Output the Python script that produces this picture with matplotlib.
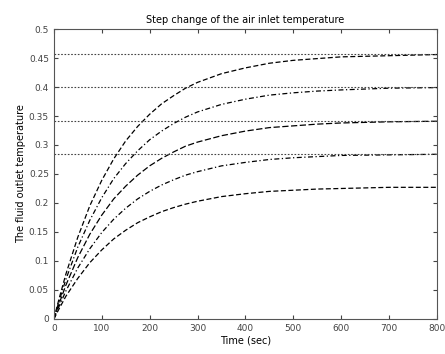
import matplotlib
matplotlib.use('Agg')
import matplotlib.pyplot as plt

# time samples (sec) and the five outlet temperature responses
t = [0, 10, 25, 50, 75, 100, 125, 150, 175, 200, 225, 250, 275, 300, 350, 400, 450, 500, 550, 600, 700, 800]
curve1 = [0, 0.032, 0.077, 0.141, 0.195, 0.239, 0.276, 0.307, 0.332, 0.353, 0.371, 0.385, 0.398, 0.408,
          0.423, 0.433, 0.441, 0.446, 0.449, 0.452, 0.454, 0.456]
curve2 = [0, 0.028, 0.068, 0.124, 0.170, 0.209, 0.242, 0.268, 0.290, 0.309, 0.324, 0.337, 0.348, 0.357,
          0.370, 0.379, 0.386, 0.390, 0.393, 0.395, 0.398, 0.399]
curve3 = [0, 0.024, 0.058, 0.106, 0.146, 0.179, 0.207, 0.229, 0.248, 0.264, 0.277, 0.288, 0.298, 0.305,
          0.316, 0.324, 0.330, 0.333, 0.336, 0.338, 0.340, 0.341]
curve4 = [0, 0.020, 0.048, 0.088, 0.121, 0.149, 0.172, 0.191, 0.207, 0.220, 0.231, 0.240, 0.248, 0.254,
          0.264, 0.270, 0.275, 0.278, 0.280, 0.282, 0.283, 0.284]
curve5 = [0, 0.016, 0.039, 0.070, 0.097, 0.119, 0.138, 0.153, 0.166, 0.176, 0.185, 0.192, 0.198, 0.203,
          0.211, 0.216, 0.220, 0.222, 0.224, 0.225, 0.227, 0.227]

# steady state reference levels (dotted)
levels = [0.457, 0.400, 0.342, 0.285]

fig = plt.figure(figsize=(4.45, 3.54), dpi=100)
ax = fig.add_axes([0.121, 0.099, 0.861, 0.819])

curves = [curve1, curve2, curve3, curve4, curve5]
dashes = [(4, 2), (4, 2, 1, 2), (5, 2), (4, 2, 1, 2), (4, 2)]
for c, d in zip(curves, dashes):
    ax.plot(t, c, color='black', lw=0.9, dashes=d)

for lv in levels:
    ax.axhline(lv, color='#444444', lw=0.8, ls=(0, (1.5, 1.5)))

ax.set_xlim(0, 800)
ax.set_ylim(0, 0.5)
ax.set_xticks(range(0, 801, 100))
ax.set_yticks([0, 0.05, 0.1, 0.15, 0.2, 0.25, 0.3, 0.35, 0.4, 0.45, 0.5])
ax.set_yticklabels(['0', '0.05', '0.1', '0.15', '0.2', '0.25', '0.3', '0.35', '0.4', '0.45', '0.5'])
ax.tick_params(direction='in', top=True, right=True, labelsize=6.5, length=3, colors='#444444')
for s in ax.spines.values():
    s.set_color('#555555')
    s.set_linewidth(0.8)

ax.set_title('Step change of the air inlet temperature', fontsize=7, pad=4)
ax.set_xlabel('Time (sec)', fontsize=7, labelpad=2)
ax.set_ylabel('The fluid outlet temperature', fontsize=7, labelpad=2)

plt.savefig('out.png', dpi=100)
plt.close()
